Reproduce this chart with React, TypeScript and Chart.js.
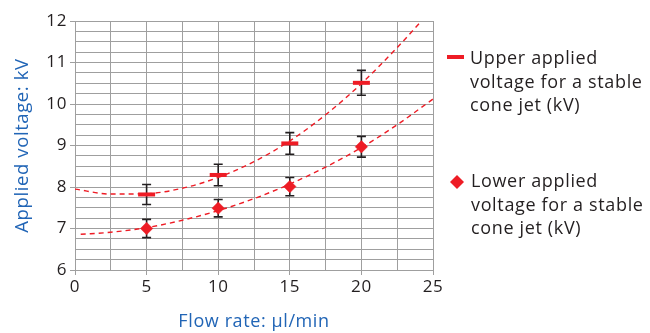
import React, { useEffect, useRef } from 'react';
import { Chart, registerables } from 'chart.js';

Chart.register(...registerables);

const flowRates = [5, 10, 15, 20];
const upperVoltage = [7.82, 8.29, 9.05, 10.51];
const upperError = [0.24, 0.26, 0.26, 0.3];
const lowerVoltage = [7.0, 7.49, 8.01, 8.97];
const lowerError = [0.22, 0.21, 0.22, 0.25];

const upperTrendX = [0, 2.5, 5, 7.5, 10, 12.5, 15, 17.5, 20, 22.5, 24.2];
const upperTrendY = [7.95, 7.83, 7.84, 7.97, 8.23, 8.61, 9.11, 9.74, 10.49, 11.36, 12.0];
const lowerTrendX = [0.4, 2.5, 5, 7.5, 10, 12.5, 15, 17.5, 20, 22.5, 25];
const lowerTrendY = [6.86, 6.91, 7.02, 7.2, 7.43, 7.72, 8.07, 8.48, 8.95, 9.5, 10.12];

const xLabelValues = [0, 5, 10, 15, 20, 25];
const yLabelValues = [6, 7, 8, 9, 10, 11, 12];

const upperLegendLines = ['Upper applied', 'voltage for a stable', 'cone jet (kV)'];
const lowerLegendLines = ['Lower applied', 'voltage for a stable', 'cone jet (kV)'];

const RED = '#ee1c25';
const DARK = '#231f20';
const BLUE = '#2165b6';
const GRID = '#9f9f9f';
const FONT = '"Open Sans", sans-serif';

const spacingPlugin = {
  id: 'letterSpacing',
  beforeDraw(chart: any) {
    chart.ctx.letterSpacing = '0.6px';
  },
};

const errorBarPlugin = {
  id: 'errorBars',
  beforeDatasetsDraw(chart: any) {
    const ctx = chart.ctx;
    const xs = chart.scales.x;
    const ys = chart.scales.y;
    ctx.save();
    ctx.strokeStyle = DARK;
    ctx.lineWidth = 1.6;
    const draw = (vals: number[], errs: number[]) => {
      flowRates.forEach((f, i) => {
        const px = xs.getPixelForValue(f);
        const top = ys.getPixelForValue(vals[i] + errs[i]);
        const bot = ys.getPixelForValue(vals[i] - errs[i]);
        ctx.beginPath();
        ctx.moveTo(px, top);
        ctx.lineTo(px, bot);
        ctx.moveTo(px - 4.5, top);
        ctx.lineTo(px + 4.5, top);
        ctx.moveTo(px - 4.5, bot);
        ctx.lineTo(px + 4.5, bot);
        ctx.stroke();
      });
    };
    draw(upperVoltage, upperError);
    draw(lowerVoltage, lowerError);
    ctx.restore();
  },
};

const legendPlugin = {
  id: 'sideLegend',
  afterDraw(chart: any) {
    const ctx = chart.ctx;
    const area = chart.chartArea;
    const x0 = area.right;
    ctx.save();
    ctx.strokeStyle = RED;
    ctx.lineWidth = 4;
    ctx.beginPath();
    ctx.moveTo(x0 + 14, 57);
    ctx.lineTo(x0 + 31, 57);
    ctx.stroke();
    ctx.fillStyle = RED;
    const cx = x0 + 24;
    const cy = 182;
    ctx.beginPath();
    ctx.moveTo(cx, cy - 7);
    ctx.lineTo(cx + 7, cy);
    ctx.lineTo(cx, cy + 7);
    ctx.lineTo(cx - 7, cy);
    ctx.closePath();
    ctx.fill();

    ctx.fillStyle = DARK;
    ctx.font = '18px ' + FONT;
    ctx.letterSpacing = '0.65px';
    ctx.textBaseline = 'middle';
    ctx.textAlign = 'left';
    upperLegendLines.forEach((t, i) => ctx.fillText(t, x0 + 37, 59 + i * 23.5));
    lowerLegendLines.forEach((t, i) => ctx.fillText(t, x0 + 38, 182 + i * 23.5));
    ctx.restore();
  },
};

export default function App() {
  const ref = useRef<HTMLCanvasElement>(null);

  useEffect(() => {
    document.body.style.margin = '0';
    const canvas = ref.current;
    if (!canvas) return;
    const chart = new Chart(canvas, {
      type: 'scatter',
      data: {
        datasets: [
          {
            type: 'line',
            label: 'Upper trend',
            data: upperTrendX.map((x, i) => ({ x, y: upperTrendY[i] })),
            borderColor: RED,
            borderWidth: 1.4,
            borderDash: [5, 4],
            pointRadius: 0,
            fill: false,
            cubicInterpolationMode: 'monotone',
          },
          {
            type: 'line',
            label: 'Lower trend',
            data: lowerTrendX.map((x, i) => ({ x, y: lowerTrendY[i] })),
            borderColor: RED,
            borderWidth: 1.4,
            borderDash: [5, 4],
            pointRadius: 0,
            fill: false,
            cubicInterpolationMode: 'monotone',
          },
          {
            label: 'Upper applied voltage for a stable cone jet (kV)',
            data: flowRates.map((x, i) => ({ x, y: upperVoltage[i] })),
            pointStyle: 'line',
            pointRadius: 8.5,
            borderColor: RED,
            backgroundColor: RED,
            pointBorderWidth: 4,
            showLine: false,
          },
          {
            label: 'Lower applied voltage for a stable cone jet (kV)',
            data: flowRates.map((x, i) => ({ x, y: lowerVoltage[i] })),
            pointStyle: 'rectRot',
            pointRadius: 6.2,
            borderColor: RED,
            backgroundColor: RED,
            pointBorderWidth: 0.5,
            showLine: false,
          },
        ],
      },
      options: {
        animation: false,
        responsive: false,
        maintainAspectRatio: false,
        layout: { padding: { top: 21, right: 217, bottom: 0, left: 0 } },
        plugins: {
          legend: { display: false },
          tooltip: { enabled: false },
        },
        scales: {
          x: {
            type: 'linear',
            min: 0,
            max: 25,
            afterFit: (s: any) => {
              s.height = 63;
            },
            ticks: {
              stepSize: 2.5,
              autoSkip: false,
              maxRotation: 0,
              padding: 2,
              color: DARK,
              font: { family: FONT, size: 17 },
              callback: (v: any) => (xLabelValues.includes(Number(v)) ? String(v) : ''),
            },
            grid: {
              color: GRID,
              lineWidth: 1,
              tickLength: 5,
              tickColor: (c: any) => (xLabelValues.includes(c.tick?.value) ? GRID : 'rgba(0,0,0,0)'),
            },
            border: { color: GRID, width: 1 },
            title: {
              display: true,
              text: 'Flow rate: µl/min',
              color: BLUE,
              font: { family: FONT, size: 18 },
              padding: { top: 0, bottom: 0 },
            },
          },
          y: {
            type: 'linear',
            min: 6,
            max: 12,
            afterFit: (s: any) => {
              s.width = 75;
            },
            ticks: {
              stepSize: 0.25,
              autoSkip: false,
              padding: 3,
              color: DARK,
              font: { family: FONT, size: 17 },
              callback: (v: any) => (yLabelValues.includes(Number(v)) ? String(v) : ''),
            },
            grid: {
              color: GRID,
              lineWidth: 1,
              tickLength: 5,
              tickColor: (c: any) => (yLabelValues.includes(c.tick?.value) ? GRID : 'rgba(0,0,0,0)'),
            },
            border: { color: GRID, width: 1 },
            title: {
              display: true,
              text: 'Applied voltage: kV',
              color: BLUE,
              font: { family: FONT, size: 18.5 },
              padding: { top: 12, bottom: 0 },
            },
          },
        },
      },
      plugins: [spacingPlugin, errorBarPlugin, legendPlugin],
    } as any);
    return () => chart.destroy();
  }, []);

  return (
    <div style={{ width: 650, height: 333, position: 'relative' }}>
      <canvas ref={ref} width={650} height={333} style={{ display: 'block' }} />
    </div>
  );
}
